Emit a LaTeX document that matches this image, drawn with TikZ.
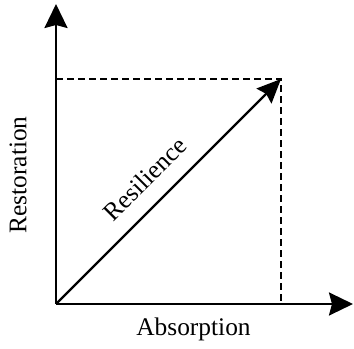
\documentclass[tikz,border=0pt]{standalone}
\usepackage{fontspec}
\setmainfont{Liberation Serif}
\usetikzlibrary{arrows.meta,positioning}

\begin{document}
\begin{tikzpicture}[
    x=1bp, y=1bp,
    axis/.style={
      line width=2.4bp,
      -{Stealth[length=24bp,width=23bp,inset=3bp]}
    },
    guide/.style={
      line width=2.4bp,
      dash pattern=on 7bp off 4bp
    },
    lbl/.style={font=\fontsize{25.5}{30}\selectfont, inner sep=0pt},
    >=Stealth
  ]
    \useasboundingbox (0,0) rectangle (354,349);

    \coordinate (origin) at (56,45);
    \coordinate (xend) at (353,45);
    \coordinate (yend) at (56,345);
    \coordinate (corner) at (281,270);
    \coordinate (xfoot) at (281,45);
    \coordinate (yfoot) at (56,270);

    \draw[guide] (yfoot) -- (corner) -- (xfoot);

    \draw[axis] (origin) -- (xend);
    \draw[axis] (origin) -- (yend);
    \draw[line width=2.2bp, -{Stealth[length=24bp,width=21bp,inset=3bp]}] (origin) -- node[lbl, sloped, above=16bp, pos=0.475] (res) {Resilience} (corner);

    \node[lbl] (absorb) at (193.5,20) {Absorption};
    \node[lbl, rotate=90] (restore) at (18,174) {Restoration};
  \end{tikzpicture}
\end{document}
